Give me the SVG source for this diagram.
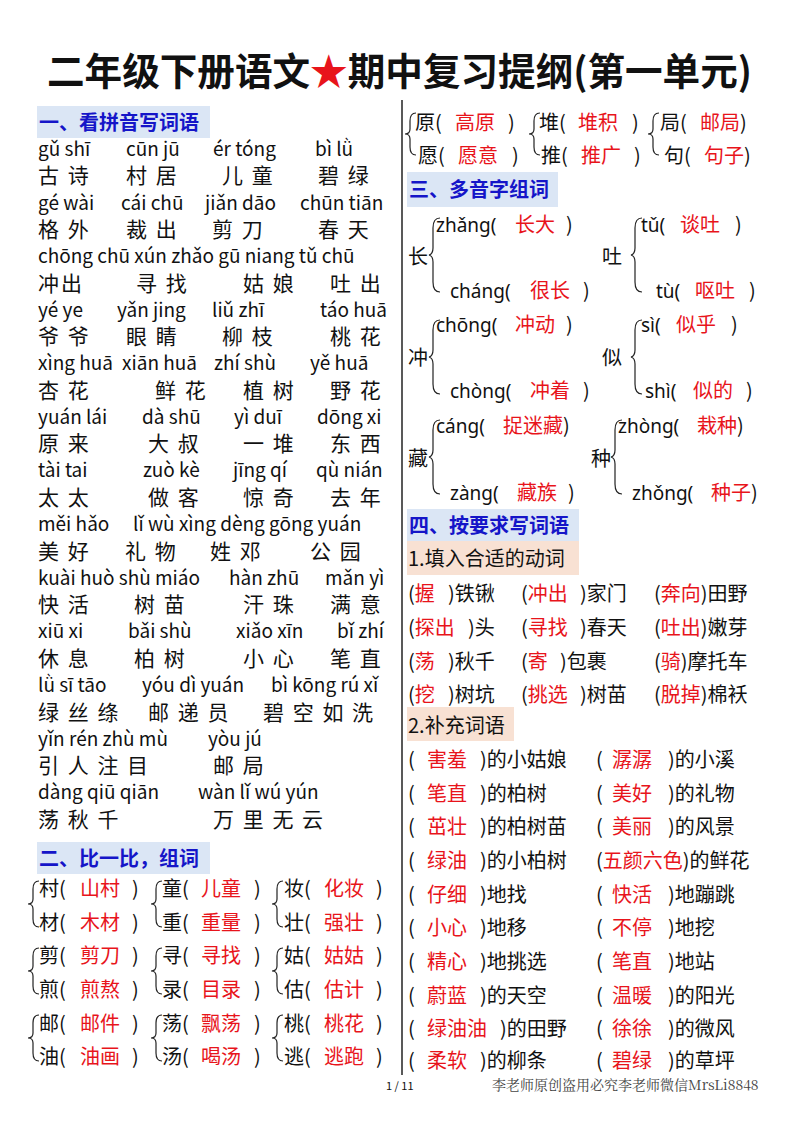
<svg xmlns="http://www.w3.org/2000/svg" width="800" height="1132" viewBox="0 0 800 1132">
<style>
text{font-family:"Noto Sans CJK SC","Noto Sans",sans-serif;fill:#111}
.py{font-family:"Noto Sans","DejaVu Sans",sans-serif;font-size:19px}
.cn{font-size:20px}
.lc text{font-size:21px;letter-spacing:2px}
.r{fill:#e8141b}
.h{font-size:20px;font-weight:bold;fill:#1515c8}
.hb{fill:#dbe6f5}
.pb{fill:#f8e1d3}
.br{fill:none;stroke:#222;stroke-width:1.2}
</style>
<rect width="800" height="1132" fill="#fff"/>
<text x="47" y="85" font-size="38" font-weight="bold" textLength="705" lengthAdjust="spacingAndGlyphs">二年级下册语文<tspan class="r">★</tspan>期中复习提纲(第一单元)</text>
<line x1="402" y1="100" x2="402" y2="1075" stroke="#222" stroke-width="1.5"/>
<g id="sec1">
<rect class="hb" x="37" y="106" width="173" height="32"/>
<text class="h" x="39" y="130">一、看拼音写词语</text>
<g class="py">
<text x="38" y="156">gǔ shī</text><text x="126" y="156">cūn jū</text><text x="213" y="156">ér tóng</text><text x="315" y="156">bì  lǜ</text>
<text x="38" y="210">gé wài</text><text x="121" y="210">cái chū</text><text x="205" y="210">jiǎn dāo</text><text x="300" y="210">chūn tiān</text>
<text x="38" y="263">chōng chū xún zhǎo gū niang tǔ chū</text>
<text x="38" y="317">yé ye</text><text x="117" y="317">yǎn jing</text><text x="212" y="317">liǔ zhī</text><text x="320" y="317">táo huā</text>
<text x="38" y="370">xìng huā</text><text x="122" y="370">xiān huā</text><text x="214" y="370">zhí shù</text><text x="310" y="370">yě huā</text>
<text x="38" y="424">yuán lái</text><text x="142" y="424">dà shū</text><text x="234" y="424">yì duī</text><text x="317" y="424">dōng xi</text>
<text x="38" y="477">tài tai</text><text x="143" y="477">zuò kè</text><text x="233" y="477">jīng qí</text><text x="316" y="477">qù nián</text>
<text x="38" y="531">měi hǎo</text><text x="133" y="531">lǐ wù xìng dèng gōng yuán</text>
<text x="38" y="585">kuài huò shù miáo</text><text x="229" y="585">hàn zhū</text><text x="325" y="585">mǎn yì</text>
<text x="38" y="638">xiū xi</text><text x="128" y="638">bǎi shù</text><text x="236" y="638">xiǎo xīn</text><text x="337" y="638">bǐ zhí</text>
<text x="38" y="692">lǜ sī tāo</text><text x="142" y="692">yóu dì yuán</text><text x="271" y="692">bì kōng rú xǐ</text>
<text x="38" y="746">yǐn rén zhù mù</text><text x="208" y="746">yòu jú</text>
<text x="38" y="799">dàng qiū qiān</text><text x="198" y="799">wàn lǐ wú yún</text>
</g>
<g class="lc">
<text x="38" y="183">古 诗</text><text x="126" y="183">村 居</text><text x="222" y="183">儿 童</text><text x="318" y="183">碧 绿</text>
<text x="38" y="237">格 外</text><text x="126" y="237">裁 出</text><text x="212" y="237">剪 刀</text><text x="318" y="237">春 天</text>
<text x="38" y="291">冲出</text><text x="136" y="291">寻 找</text><text x="243" y="291">姑 娘</text><text x="330" y="291">吐 出</text>
<text x="38" y="344">爷 爷</text><text x="126" y="344">眼 睛</text><text x="222" y="344">柳 枝</text><text x="330" y="344">桃 花</text>
<text x="38" y="398">杏 花</text><text x="155" y="398">鲜 花</text><text x="243" y="398">植 树</text><text x="330" y="398">野 花</text>
<text x="38" y="451">原 来</text><text x="148" y="451">大 叔</text><text x="243" y="451">一 堆</text><text x="330" y="451">东 西</text>
<text x="38" y="505">太 太</text><text x="148" y="505">做 客</text><text x="243" y="505">惊 奇</text><text x="330" y="505">去 年</text>
<text x="38" y="559">美 好</text><text x="125" y="559">礼 物</text><text x="210" y="559">姓 邓</text><text x="310" y="559">公 园</text>
<text x="38" y="612">快 活</text><text x="134" y="612">树 苗</text><text x="243" y="612">汗 珠</text><text x="330" y="612">满 意</text>
<text x="38" y="666">休 息</text><text x="134" y="666">柏 树</text><text x="243" y="666">小 心</text><text x="330" y="666">笔 直</text>
<text x="38" y="720">绿 丝 绦</text><text x="148" y="720">邮 递 员</text><text x="263" y="720">碧 空 如 洗</text>
<text x="38" y="773">引 人 注 目</text><text x="213" y="773">邮 局</text>
<text x="38" y="827">荡 秋 千</text><text x="213" y="827">万 里 无 云</text>
</g>
</g>
<g id="sec2">
<rect class="hb" x="37" y="842" width="173" height="32"/>
<text class="h" x="39" y="866">二、比一比，组词</text>
<g class="br">
<path d="M39 881 q-6 0 -6 8 v10 q0 5 -5 5 q5 0 5 5 v10 q0 8 6 8"/>
<path d="M162 881 q-6 0 -6 8 v10 q0 5 -5 5 q5 0 5 5 v10 q0 8 6 8"/>
<path d="M283 881 q-6 0 -6 8 v10 q0 5 -5 5 q5 0 5 5 v10 q0 8 6 8"/>
<path d="M39 948 q-6 0 -6 8 v10 q0 5 -5 5 q5 0 5 5 v10 q0 8 6 8"/>
<path d="M162 948 q-6 0 -6 8 v10 q0 5 -5 5 q5 0 5 5 v10 q0 8 6 8"/>
<path d="M283 948 q-6 0 -6 8 v10 q0 5 -5 5 q5 0 5 5 v10 q0 8 6 8"/>
<path d="M39 1015 q-6 0 -6 8 v10 q0 5 -5 5 q5 0 5 5 v10 q0 8 6 8"/>
<path d="M162 1015 q-6 0 -6 8 v10 q0 5 -5 5 q5 0 5 5 v10 q0 8 6 8"/>
<path d="M283 1015 q-6 0 -6 8 v10 q0 5 -5 5 q5 0 5 5 v10 q0 8 6 8"/>
</g>
<g class="cn">
<text x="39" y="896">村(<tspan class="r" x="80">山村</tspan><tspan x="132">)</tspan></text>
<text x="39" y="930">材(<tspan class="r" x="80">木材</tspan><tspan x="132">)</tspan></text>
<text x="39" y="963">剪(<tspan class="r" x="80">剪刀</tspan><tspan x="132">)</tspan></text>
<text x="39" y="997">煎(<tspan class="r" x="80">煎熬</tspan><tspan x="132">)</tspan></text>
<text x="39" y="1031">邮(<tspan class="r" x="80">邮件</tspan><tspan x="132">)</tspan></text>
<text x="39" y="1064">油(<tspan class="r" x="80">油画</tspan><tspan x="132">)</tspan></text>
<text x="162" y="896">童(<tspan class="r" x="201">儿童</tspan><tspan x="254">)</tspan></text>
<text x="162" y="930">重(<tspan class="r" x="201">重量</tspan><tspan x="254">)</tspan></text>
<text x="162" y="963">寻(<tspan class="r" x="201">寻找</tspan><tspan x="254">)</tspan></text>
<text x="162" y="997">录(<tspan class="r" x="201">目录</tspan><tspan x="254">)</tspan></text>
<text x="162" y="1031">荡(<tspan class="r" x="201">飘荡</tspan><tspan x="254">)</tspan></text>
<text x="162" y="1064">汤(<tspan class="r" x="201">喝汤</tspan><tspan x="254">)</tspan></text>
<text x="284" y="896">妆(<tspan class="r" x="324">化妆</tspan><tspan x="376">)</tspan></text>
<text x="284" y="930">壮(<tspan class="r" x="324">强壮</tspan><tspan x="376">)</tspan></text>
<text x="284" y="963">姑(<tspan class="r" x="324">姑姑</tspan><tspan x="376">)</tspan></text>
<text x="284" y="997">估(<tspan class="r" x="324">估计</tspan><tspan x="376">)</tspan></text>
<text x="284" y="1031">桃(<tspan class="r" x="324">桃花</tspan><tspan x="376">)</tspan></text>
<text x="284" y="1064">逃(<tspan class="r" x="324">逃跑</tspan><tspan x="376">)</tspan></text>
</g>
</g>
<g id="sec2b">
<g class="br">
<path d="M416 113 q-6 0 -6 8 v8 q0 5 -5 5 q5 0 5 5 v8 q0 8 6 8"/>
<path d="M540 113 q-6 0 -6 8 v8 q0 5 -5 5 q5 0 5 5 v8 q0 8 6 8"/>
<path d="M659 113 q-6 0 -6 8 v8 q0 5 -5 5 q5 0 5 5 v8 q0 8 6 8"/>
</g>
<g class="cn">
<text x="415" y="130">原(<tspan class="r" x="455">高原</tspan><tspan x="508">)</tspan></text>
<text x="418" y="163">愿(<tspan class="r" x="458">愿意</tspan><tspan x="512">)</tspan></text>
<text x="539" y="130">堆(<tspan class="r" x="578">堆积</tspan><tspan x="632">)</tspan></text>
<text x="541" y="163">推(<tspan class="r" x="581">推广</tspan><tspan x="634">)</tspan></text>
<text x="660" y="130">局(<tspan class="r" x="700">邮局</tspan>)</text>
<text x="664" y="163">句(<tspan class="r" x="704">句子</tspan>)</text>
</g>
</g>
<g id="sec3">
<rect class="hb" x="407" y="172" width="151" height="35"/>
<text class="h" x="409" y="197">三、多音字组词</text>
<g class="br">
<path d="M440 218 q-7 0 -7 10 v20 q0 6 -4 7 q4 1 4 7 v20 q0 10 7 10"/>
<path d="M642 218 q-7 0 -7 10 v20 q0 6 -4 7 q4 1 4 7 v20 q0 10 7 10"/>
<path d="M440 320 q-7 0 -7 10 v20 q0 6 -4 7 q4 1 4 7 v20 q0 10 7 10"/>
<path d="M642 320 q-7 0 -7 10 v20 q0 6 -4 7 q4 1 4 7 v20 q0 10 7 10"/>
<path d="M440 420 q-7 0 -7 10 v20 q0 6 -4 7 q4 1 4 7 v20 q0 10 7 10"/>
<path d="M622 420 q-7 0 -7 10 v20 q0 6 -4 7 q4 1 4 7 v20 q0 10 7 10"/>
</g>
<g class="cn">
<text x="408" y="264">长</text><text x="602" y="264">吐</text>
<text x="408" y="365">冲</text><text x="602" y="365">似</text>
<text x="408" y="466">藏</text><text x="591" y="466">种</text>
<text x="436" y="232"><tspan class="py" font-size="20">zhǎng(</tspan><tspan class="r" x="515">长大</tspan><tspan x="566">)</tspan></text>
<text x="450" y="298"><tspan class="py" font-size="20">cháng(</tspan><tspan class="r" x="530">很长</tspan><tspan x="583">)</tspan></text>
<text x="641" y="232"><tspan class="py" font-size="20">tǔ(</tspan><tspan class="r" x="680">谈吐</tspan><tspan x="735">)</tspan></text>
<text x="656" y="298"><tspan class="py" font-size="20">tù(</tspan><tspan class="r" x="695">呕吐</tspan><tspan x="749">)</tspan></text>
<text x="436" y="332"><tspan class="py" font-size="20">chōng(</tspan><tspan class="r" x="515">冲动</tspan><tspan x="566">)</tspan></text>
<text x="450" y="398"><tspan class="py" font-size="20">chòng(</tspan><tspan class="r" x="530">冲着</tspan><tspan x="583">)</tspan></text>
<text x="641" y="332"><tspan class="py" font-size="20">sì(</tspan><tspan class="r" x="676">似乎</tspan><tspan x="731">)</tspan></text>
<text x="645" y="398"><tspan class="py" font-size="20">shì(</tspan><tspan class="r" x="693">似的</tspan><tspan x="746">)</tspan></text>
<text x="436" y="433"><tspan class="py" font-size="20">cáng(</tspan><tspan class="r" x="503">捉迷藏</tspan>)</text>
<text x="450" y="500"><tspan class="py" font-size="20">zàng(</tspan><tspan class="r" x="517">藏族</tspan><tspan x="568">)</tspan></text>
<text x="618" y="433"><tspan class="py" font-size="20">zhòng(</tspan><tspan class="r" x="697">栽种</tspan>)</text>
<text x="632" y="500"><tspan class="py" font-size="20">zhǒng(</tspan><tspan class="r" x="711">种子</tspan>)</text>
</g>
</g>
<g id="sec4">
<rect class="hb" x="407" y="509" width="172" height="32"/>
<text class="h" x="409" y="533">四、按要求写词语</text>
<rect class="pb" x="407" y="541" width="172" height="34"/>
<text class="cn" x="408" y="566">1.填入合适的动词</text>
<g class="cn">
<text x="408" y="601">(<tspan class="r">握</tspan><tspan x="448">)铁锹</tspan></text>
<text x="521" y="601">(<tspan class="r">冲出</tspan><tspan x="580">)家门</tspan></text>
<text x="654" y="601">(<tspan class="r">奔向</tspan>)田野</text>
<text x="408" y="635">(<tspan class="r">探出</tspan><tspan x="468">)头</tspan></text>
<text x="521" y="635">(<tspan class="r">寻找</tspan><tspan x="580">)春天</tspan></text>
<text x="654" y="635">(<tspan class="r">吐出</tspan>)嫩芽</text>
<text x="408" y="669">(<tspan class="r">荡</tspan><tspan x="448">)秋千</tspan></text>
<text x="521" y="669">(<tspan class="r">寄</tspan><tspan x="560">)包裹</tspan></text>
<text x="654" y="669">(<tspan class="r">骑</tspan>)摩托车</text>
<text x="408" y="702">(<tspan class="r">挖</tspan><tspan x="448">)树坑</tspan></text>
<text x="521" y="702">(<tspan class="r">挑选</tspan><tspan x="580">)树苗</tspan></text>
<text x="654" y="702">(<tspan class="r">脱掉</tspan>)棉袄</text>
</g>
<rect class="pb" x="407" y="707" width="107" height="34"/>
<text class="cn" x="408" y="733">2.补充词语</text>
<g class="cn">
<text x="408" y="767">(<tspan class="r" x="427">害羞</tspan><tspan x="480">)的小姑娘</tspan></text>
<text x="596" y="767">(<tspan class="r" x="612">潺潺</tspan><tspan x="668">)的小溪</tspan></text>
<text x="408" y="801">(<tspan class="r" x="427">笔直</tspan><tspan x="480">)的柏树</tspan></text>
<text x="596" y="801">(<tspan class="r" x="612">美好</tspan><tspan x="668">)的礼物</tspan></text>
<text x="408" y="834">(<tspan class="r" x="427">茁壮</tspan><tspan x="480">)的柏树苗</tspan></text>
<text x="596" y="834">(<tspan class="r" x="612">美丽</tspan><tspan x="668">)的风景</tspan></text>
<text x="408" y="868">(<tspan class="r" x="427">绿油</tspan><tspan x="480">)的小柏树</tspan></text>
<text x="596" y="868">(<tspan class="r">五颜六色</tspan>)的鲜花</text>
<text x="408" y="902">(<tspan class="r" x="427">仔细</tspan><tspan x="480">)地找</tspan></text>
<text x="596" y="902">(<tspan class="r" x="612">快活</tspan><tspan x="668">)地蹦跳</tspan></text>
<text x="408" y="935">(<tspan class="r" x="427">小心</tspan><tspan x="480">)地移</tspan></text>
<text x="596" y="935">(<tspan class="r" x="612">不停</tspan><tspan x="668">)地挖</tspan></text>
<text x="408" y="969">(<tspan class="r" x="427">精心</tspan><tspan x="480">)地挑选</tspan></text>
<text x="596" y="969">(<tspan class="r" x="612">笔直</tspan><tspan x="668">)地站</tspan></text>
<text x="408" y="1003">(<tspan class="r" x="427">蔚蓝</tspan><tspan x="480">)的天空</tspan></text>
<text x="596" y="1003">(<tspan class="r" x="612">温暖</tspan><tspan x="668">)的阳光</tspan></text>
<text x="408" y="1036">(<tspan class="r" x="427">绿油油</tspan><tspan x="500">)的田野</tspan></text>
<text x="596" y="1036">(<tspan class="r" x="612">徐徐</tspan><tspan x="668">)的微风</tspan></text>
<text x="408" y="1068">(<tspan class="r" x="427">柔软</tspan><tspan x="480">)的柳条</tspan></text>
<text x="596" y="1068">(<tspan class="r" x="612">碧绿</tspan><tspan x="668">)的草坪</tspan></text>
</g>
</g>
<text x="386" y="1090" font-size="11" font-family="Noto Sans,sans-serif">1 / 11</text>
<text x="492" y="1090" font-size="14" style="fill:#444;font-family:'Noto Serif CJK SC','Noto Sans CJK SC',serif">李老师原创盗用必究李老师微信MrsLi8848</text>
</svg>
